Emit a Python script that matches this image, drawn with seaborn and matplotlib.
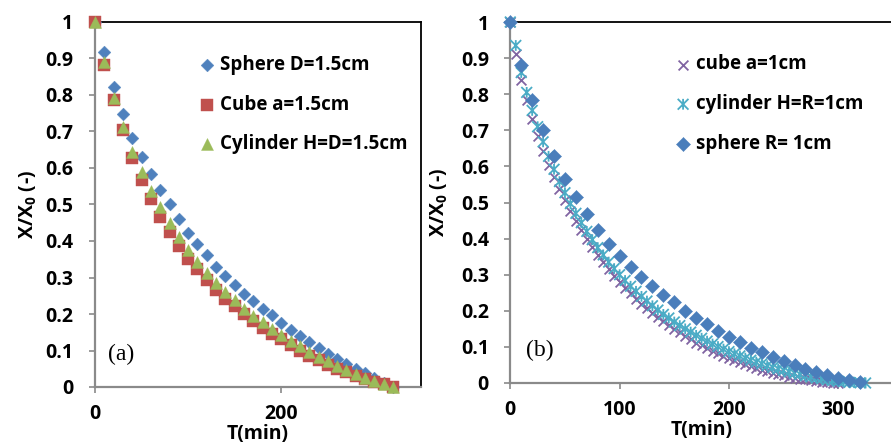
import matplotlib
matplotlib.use("Agg")
import matplotlib.pyplot as plt
from matplotlib.path import Path
from matplotlib.ticker import FuncFormatter
import seaborn as sns
import pandas as pd

# ---- panel (a): D = 1.5 cm, readings every 10 min ----
t_a = [0, 10, 20, 30, 40, 50, 60, 70, 80, 90, 100, 110, 120, 130, 140, 150, 160,
       170, 180, 190, 200, 210, 220, 230, 240, 250, 260, 270, 280, 290, 300, 310, 320]
sphere_a = [1.0, 0.917, 0.823, 0.747, 0.681, 0.631, 0.583, 0.540, 0.500, 0.460, 0.423,
            0.392, 0.362, 0.330, 0.304, 0.280, 0.256, 0.235, 0.215, 0.196, 0.176, 0.157,
            0.139, 0.122, 0.106, 0.091, 0.077, 0.064, 0.050, 0.037, 0.024, 0.012, 0.0]
cube_a = [1.0, 0.883, 0.787, 0.704, 0.627, 0.568, 0.514, 0.467, 0.425, 0.385, 0.352,
          0.322, 0.293, 0.266, 0.242, 0.221, 0.200, 0.181, 0.163, 0.146, 0.131, 0.115,
          0.100, 0.086, 0.073, 0.061, 0.050, 0.040, 0.031, 0.023, 0.015, 0.008, 0.0]
cyl_a = [1.0, 0.891, 0.793, 0.713, 0.645, 0.590, 0.537, 0.492, 0.450, 0.410, 0.375,
         0.343, 0.313, 0.285, 0.260, 0.237, 0.215, 0.195, 0.177, 0.160, 0.143, 0.127,
         0.112, 0.097, 0.083, 0.070, 0.058, 0.047, 0.036, 0.026, 0.017, 0.009, 0.0]

# ---- panel (b): 1 cm samples ----
t_b_sphere = t_a
sphere_b = [1.0, 0.882, 0.785, 0.702, 0.628, 0.566, 0.514, 0.467, 0.425, 0.385, 0.353,
            0.321, 0.295, 0.268, 0.244, 0.223, 0.200, 0.180, 0.163, 0.145, 0.127, 0.113,
            0.097, 0.085, 0.071, 0.060, 0.049, 0.040, 0.030, 0.021, 0.015, 0.009, 0.002]
t_b_cube = [0, 5, 10, 15, 20, 25, 30, 35, 40, 45, 50, 55, 60, 65, 70, 75, 80, 85, 90, 95,
            100, 105, 110, 115, 120, 125, 130, 135, 140, 145, 150, 155, 160, 165, 170,
            175, 180, 185, 190, 195, 200, 205, 210, 215, 220, 225, 230, 235, 240, 245,
            250, 255, 260, 265, 270, 275, 280, 285, 290, 295, 300]
cube_b = [1.0, 0.910, 0.840, 0.785, 0.730, 0.685, 0.643, 0.605, 0.570, 0.537, 0.506,
          0.477, 0.450, 0.424, 0.400, 0.377, 0.355, 0.334, 0.315, 0.297, 0.280, 0.264,
          0.249, 0.234, 0.220, 0.207, 0.194, 0.182, 0.171, 0.160, 0.150, 0.140, 0.130,
          0.121, 0.112, 0.104, 0.096, 0.089, 0.082, 0.075, 0.069, 0.063, 0.057, 0.052,
          0.047, 0.042, 0.037, 0.033, 0.029, 0.025, 0.022, 0.018, 0.015, 0.012, 0.010,
          0.007, 0.005, 0.003, 0.002, 0.001, 0.0]
t_b_cyl = t_b_cube + [305, 310, 315, 320, 325]
cyl_b = [1.0, 0.935, 0.860, 0.805, 0.755, 0.710, 0.668, 0.628, 0.592, 0.558, 0.527,
         0.497, 0.470, 0.444, 0.420, 0.397, 0.375, 0.355, 0.335, 0.317, 0.300, 0.284,
         0.268, 0.254, 0.240, 0.227, 0.214, 0.202, 0.190, 0.180, 0.169, 0.159, 0.150,
         0.141, 0.132, 0.124, 0.116, 0.108, 0.101, 0.094, 0.087, 0.081, 0.075, 0.069,
         0.063, 0.058, 0.053, 0.048, 0.043, 0.039, 0.035, 0.031, 0.027, 0.024, 0.020,
         0.017, 0.014, 0.012, 0.009, 0.007, 0.005, 0.004, 0.002, 0.001, 0.0005, 0.0]

y_ticks = [0, 0.1, 0.2, 0.3, 0.4, 0.5, 0.6, 0.7, 0.8, 0.9, 1.0]

FONT = "Open Sans"
plt.rcParams["font.family"] = [FONT, "DejaVu Sans"]
plt.rcParams["mathtext.fontset"] = "custom"
plt.rcParams["mathtext.rm"] = FONT
plt.rcParams["mathtext.bf"] = FONT + ":bold"

# Excel style "star" marker: an X with a vertical bar
star = Path([(-0.5, -0.5), (0.5, 0.5), (-0.5, 0.5), (0.5, -0.5), (0, -0.5), (0, 0.5)],
            [Path.MOVETO, Path.LINETO, Path.MOVETO, Path.LINETO, Path.MOVETO, Path.LINETO])

fig = plt.figure(figsize=(8.91, 4.46), dpi=100)
ax1 = fig.add_axes([95 / 891, 1 - 387 / 446, 326 / 891, 365 / 446])
ax2 = fig.add_axes([510.3 / 891, 1 - 383 / 446, 382.6 / 891, 361 / 446])

df_a = pd.DataFrame({"t": t_a, "sphere": sphere_a, "cube": cube_a, "cyl": cyl_a})

sns.scatterplot(data=df_a, x="t", y="sphere", marker="D", s=42, color="#4F81BD",
                edgecolor="#4F81BD", linewidth=0.3, clip_on=False, zorder=3,
                label="Sphere D=1.5cm", ax=ax1)
sns.scatterplot(data=df_a, x="t", y="cube", marker="s", s=68, color="#C0504D",
                edgecolor="#C0504D", linewidth=0.3, clip_on=False, zorder=3,
                label="Cube a=1.5cm", ax=ax1)
sns.scatterplot(data=df_a, x="t", y="cyl", marker="^", s=74, color="#9BBB59",
                edgecolor="#9BBB59", linewidth=0.3, clip_on=False, zorder=3,
                label="Cylinder H=D=1.5cm", ax=ax1)

df_cube = pd.DataFrame({"t": t_b_cube, "v": cube_b})
df_cyl = pd.DataFrame({"t": t_b_cyl, "v": cyl_b})
df_sph = pd.DataFrame({"t": t_b_sphere, "v": sphere_b})

sns.scatterplot(data=df_cube, x="t", y="v", marker="x", s=50, color="#8064A2",
                linewidth=1.3, clip_on=False, zorder=3, label="cube a=1cm", ax=ax2)
sns.scatterplot(data=df_cyl, x="t", y="v", marker=star, s=60, color="#4BACC6",
                facecolor="none", edgecolor="#4BACC6", linewidth=1.3, clip_on=False,
                zorder=3, label="cylinder H=R=1cm", ax=ax2)
sns.scatterplot(data=df_sph, x="t", y="v", marker="D", s=52, color="#4A7EBB",
                edgecolor="#4A7EBB", linewidth=0.3, clip_on=False, zorder=3,
                label="sphere R= 1cm", ax=ax2)

bold = {"family": [FONT, "DejaVu Sans"], "weight": "bold", "size": 14}
leg_font = {"family": [FONT, "DejaVu Sans"], "weight": "bold", "size": 13.5}

for ax, xt, tag, lpad in [(ax1, [0, 200], "(a)", 5), (ax2, [0, 100, 200, 300], "(b)", 8)]:
    ax.set_xlim(0, 350)
    ax.set_ylim(0, 1)
    ax.set_xticks(xt)
    ax.set_yticks(y_ticks)
    ax.yaxis.set_major_formatter(FuncFormatter(lambda v, p: "%g" % v))
    ax.set_facecolor("white")
    for side in ["left", "bottom"]:
        ax.spines[side].set_color("#8a8a8a")
        ax.spines[side].set_linewidth(1.6)
    for side in ["top", "right"]:
        ax.spines[side].set_color("black")
        ax.spines[side].set_linewidth(1.3)
    ax.tick_params(axis="both", direction="out", length=4.5, width=1.2, color="#8a8a8a")
    ax.tick_params(axis="y", pad=11)
    ax.tick_params(axis="x", pad=8)
    for lab in ax.get_xticklabels() + ax.get_yticklabels():
        lab.set_fontweight("bold")
        lab.set_fontsize(14)
    ax.set_xlabel("T(min)", fontdict=bold, labelpad=0)
    ax.set_ylabel(r"X/X$_\mathbf{0}$ (-)", fontdict=bold, labelpad=lpad)
    ax.text(0.04, 0.09, tag, transform=ax.transAxes, va="center", ha="left",
            fontsize=17, family="Liberation Serif")
    ax.legend(loc="upper left", frameon=False, prop=leg_font, borderpad=0, borderaxespad=0,
              handlelength=0.8, handletextpad=0.3, labelspacing=1.05)

leg1 = ax1.get_legend()
leg1.set_bbox_to_anchor((0.32, 0.91), transform=ax1.transAxes)
leg2 = ax2.get_legend()
leg2.set_bbox_to_anchor((0.432, 0.91), transform=ax2.transAxes)

fig.savefig("out.png", dpi=100)
